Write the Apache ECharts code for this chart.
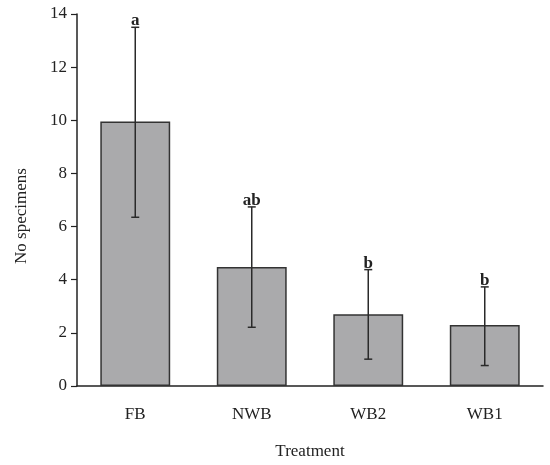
<!DOCTYPE html>
<html>
<head>
<meta charset="utf-8">
<script src="https://cdn.jsdelivr.net/npm/echarts@6/dist/echarts.min.js"></script>
<style>
  html, body { margin: 0; padding: 0; background: #fff; }
  #chart { width: 550px; height: 465px; }
</style>
</head>
<body>
<div id="chart"></div>
<script>
// Mean number of specimens per treatment, with error range and significance groups
const categories = ['FB', 'NWB', 'WB2', 'WB1'];
const means = [9.95, 4.48, 2.70, 2.30];
const errLow = [6.35, 2.21, 1.01, 0.77];
const errHigh = [13.5, 6.74, 4.38, 3.73];
const groups = ['a', 'ab', 'b', 'b'];
const yTicks = [0, 2, 4, 6, 8, 10, 12, 14];

const FONT = '"Liberation Serif", "DejaVu Serif", serif';
const INK = '#222222';

const chart = echarts.init(document.getElementById('chart'), null, { renderer: 'canvas' });

const errData = categories.map((c, i) => [i, errLow[i], errHigh[i], groups[i]]);

chart.setOption({
  animation: false,
  backgroundColor: '#ffffff',
  grid: { left: 77, right: 7, top: 14, bottom: 76 },
  xAxis: {
    type: 'category',
    data: categories,
    axisLine: { lineStyle: { color: INK, width: 1.5 } },
    axisTick: { alignWithLabel: true, length: 6, lineStyle: { color: INK, width: 1.2 } },
    axisLabel: { color: INK, fontFamily: FONT, fontSize: 17, margin: 20 },
    name: 'Treatment',
    nameLocation: 'middle',
    nameGap: 57,
    nameTextStyle: { color: INK, fontFamily: FONT, fontSize: 17 }
  },
  yAxis: {
    type: 'value',
    min: yTicks[0],
    max: yTicks[yTicks.length - 1],
    interval: 2,
    splitLine: { show: false },
    axisLine: { show: true, lineStyle: { color: INK, width: 1.5 } },
    axisTick: { show: true, inside: false, length: 6, lineStyle: { color: INK, width: 1.2 } },
    axisLabel: { color: INK, fontFamily: FONT, fontSize: 17, margin: 10 }
  },
  graphic: [{
    type: 'text',
    x: 22,
    y: 216,
    rotation: Math.PI / 2,
    style: {
      text: 'No specimens',
      fill: INK,
      font: '17px ' + FONT,
      textAlign: 'center',
      textVerticalAlign: 'middle'
    }
  }],
  series: [
    {
      type: 'bar',
      data: means,
      barWidth: '60%',
      itemStyle: { color: '#aaaaac', borderColor: '#333333', borderWidth: 1.5 }
    },
    {
      type: 'custom',
      data: errData,
      z: 10,
      renderItem: function (params, api) {
        const x = api.value(0);
        const lo = api.coord([x, api.value(1)]);
        const hi = api.coord([x, api.value(2)]);
        const cap = 4;
        const style = { stroke: '#2a2a2a', lineWidth: 1.5 };
        return {
          type: 'group',
          children: [
            { type: 'line', shape: { x1: lo[0], y1: lo[1], x2: hi[0], y2: hi[1] }, style: style },
            { type: 'line', shape: { x1: lo[0] - cap, y1: lo[1], x2: lo[0] + cap, y2: lo[1] }, style: style },
            { type: 'line', shape: { x1: hi[0] - cap, y1: hi[1], x2: hi[0] + cap, y2: hi[1] }, style: style },
            {
              type: 'text',
              x: hi[0],
              y: hi[1] + 2,
              style: {
                text: groups[params.dataIndex],
                fill: INK,
                font: 'bold 17px ' + FONT,
                textAlign: 'center',
                textVerticalAlign: 'bottom'
              }
            }
          ]
        };
      }
    }
  ]
});
</script>
</body>
</html>
